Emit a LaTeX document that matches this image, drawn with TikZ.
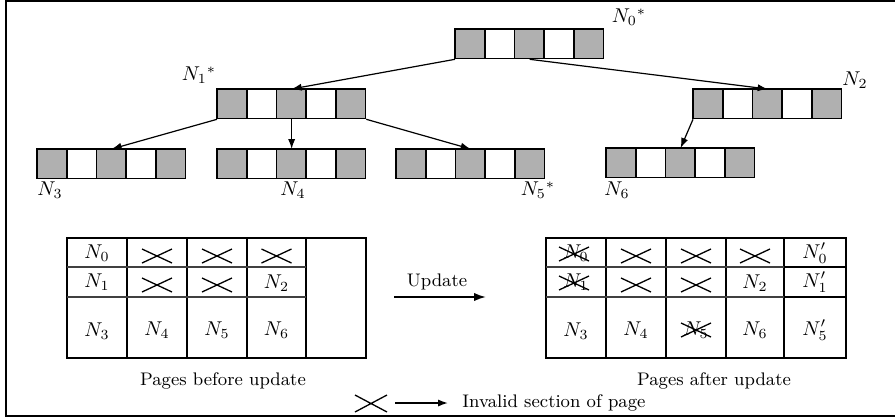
\documentclass[tikz,border=0pt]{standalone}
\usetikzlibrary{arrows.meta}

\definecolor{cellgray}{gray}{0.69}

\tikzset{
  cellline/.style={line width=0.9pt},
  link/.style={line width=0.6pt, -{Latex[length=5pt,width=3.6pt]}},
  bigarrow/.style={line width=0.9pt, -{Latex[length=6pt,width=4.2pt]}},
  grid/.style={line width=0.9pt},
  rowline/.style={line width=0.8pt, black!75},
  xmark/.style={line width=0.65pt},
  lbl/.style={inner sep=0pt, font=\fontsize{9.1}{11}\selectfont},
  mlbl/.style={inner sep=0pt, font=\fontsize{10}{12}\selectfont},
}

% a page node: five cells, grey/white alternating; #1 name, (#2,#3) top-left corner
\newcommand\pagenode[3]{%
  \begin{scope}[shift={(#2,#3)}]
    \foreach \k/\f in {0/cellgray,1/white,2/cellgray,3/white,4/cellgray}
      \filldraw[fill=\f,cellline] (\k*29.7,0) rectangle ++(29.7,29.5);
    \node[inner sep=0pt, minimum width=74.25pt, minimum height=14.75pt,
          anchor=north west] (#1) at (0,0) {};
  \end{scope}}

% cross marking an invalid section, centred at (#1,#2)
\newcommand\xcross[2]{%
  \draw[xmark] (#1-15,#2-7) -- (#1+15,#2+7) (#1-15,#2+7) -- (#1+15,#2-7);}

\begin{document}
\begin{tikzpicture}[x=0.5pt,y=-0.5pt]
\useasboundingbox (0,0) rectangle (895,419);

% outer frame
\draw[line width=1pt] (900,1) -- (6,1) -- (6,416) -- (900,416);

% ---- tree of pages ----
\pagenode{n0}{455}{29}
\pagenode{n1}{217}{89}
\pagenode{n2}{693}{89}
\pagenode{n3}{37}{149}
\pagenode{n4}{217}{149}
\pagenode{n5}{396}{149}
\pagenode{n6}{606}{148}

\draw[link] (n0.south west) -- (n1.north);
\draw[link] (n0.south) -- (n2.north);
\draw[link] (n1.south west) -- (n3.north);
\draw[link] (n1.south) -- (n4.north);
\draw[link] (n1.south east) -- (n5.north);
\draw[link] (n2.south west) -- (n6.north);

\node[mlbl] (l0) at (629,17) {$N_0{}^*$};
\node[mlbl] (l1) at (199,75) {$N_1{}^*$};
\node[mlbl] (l2) at (855,80) {$N_2$};
\node[mlbl] (l3) at (50,190) {$N_3$};
\node[mlbl] (l4) at (293,190) {$N_4$};
\node[mlbl] (l5) at (538,190) {$N_5{}^*$};
\node[mlbl] (l6) at (617,190) {$N_6$};

% ---- pages before update ----
\draw[grid] (67,238) rectangle (366,358);
\foreach \x in {127,187,247,306} \draw[grid] (\x,238) -- (\x,358);
\draw[rowline] (67,267) -- (306,267) (67,297) -- (306,297);

\node[mlbl] (b00) at (97,253) {$N_0$};
\xcross{157}{256}\xcross{217}{256}\xcross{276.5}{256}
\node[mlbl] (b10) at (97,282) {$N_1$};
\xcross{157}{285}\xcross{217}{285}
\node[mlbl] (b13) at (276.5,283) {$N_2$};
\node[mlbl] (b20) at (97,331) {$N_3$};
\node[mlbl] (b21) at (157,330) {$N_4$};
\node[mlbl] (b22) at (217,330) {$N_5$};
\node[mlbl] (b23) at (276.5,330) {$N_6$};
\node[lbl] (capb) at (223,381) {Pages before update};

% ---- update arrow ----
\coordinate (up-s) at (394,297);
\coordinate (up-e) at (486,297);
\draw[bigarrow] (up-s) -- (up-e);
\node[lbl] (upd) at (437,282) {Update};

% ---- pages after update ----
\draw[grid] (546,238) rectangle (846,358);
\foreach \x in {606,666,726,784} \draw[grid] (\x,238) -- (\x,358);
\draw[rowline] (546,267) -- (784,267) (546,297) -- (784,297);
\draw[grid] (784,267) -- (846,267) (784,297) -- (846,297);

\node[mlbl] (a00) at (576,253) {$N_0$};
\xcross{574}{254}\xcross{636}{256}\xcross{696}{256}\xcross{755}{256}
\node[mlbl] (a04) at (815,253) {$N_0'$};
\node[mlbl] (a10) at (576,282) {$N_1$};
\xcross{574}{283}\xcross{636}{285}\xcross{696}{285}
\node[mlbl] (a13) at (755,283) {$N_2$};
\node[mlbl] (a14) at (815,282) {$N_1'$};
\node[mlbl] (a20) at (576,331) {$N_3$};
\node[mlbl] (a21) at (636,330) {$N_4$};
\node[mlbl] (a22) at (696,330) {$N_5$};
\xcross{696}{330}
\node[mlbl] (a23) at (755,330) {$N_6$};
\node[mlbl] (a24) at (815,330) {$N_5'$};
\node[lbl] (capa) at (714,381) {Pages after update};

% ---- legend ----
\draw[xmark] (355,395) -- (387,412) (355,412) -- (387,395);
\coordinate (lg-s) at (395,403);
\coordinate (lg-e) at (448,403);
\draw[link, line width=0.75pt] (lg-s) -- (lg-e);
\node[lbl, anchor=west] (lgt) at (462,403) {Invalid section of page};
\end{tikzpicture}
\end{document}
